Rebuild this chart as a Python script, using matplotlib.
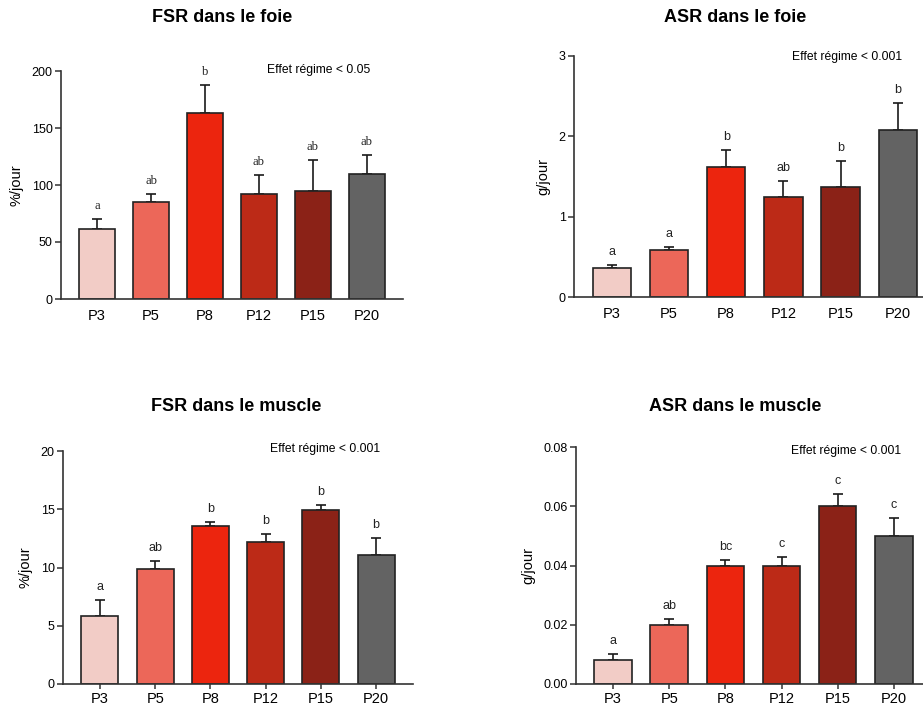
import matplotlib
matplotlib.use("Agg")
import matplotlib.pyplot as plt

plt.rcParams['font.family'] = ['Liberation Sans', 'DejaVu Sans']

# groups and bar colours
groups = ["P3", "P5", "P8", "P12", "P15", "P20"]
colors = ["#f2ccc6", "#ec6759", "#ec250e", "#bc2a17", "#8b2217", "#636363"]

# FSR foie
fsr_foie = [61, 85, 163, 92, 95, 110]
fsr_foie_err = [9, 7, 25, 17, 27, 16]
fsr_foie_letters = ["a", "ab", "b", "ab", "ab", "ab"]

# ASR foie
asr_foie = [0.36, 0.58, 1.62, 1.24, 1.37, 2.08]
asr_foie_err = [0.04, 0.04, 0.21, 0.20, 0.32, 0.34]
asr_foie_letters = ["a", "a", "b", "ab", "b", "b"]

# FSR muscle
fsr_muscle = [5.8, 9.9, 13.6, 12.2, 14.9, 11.1]
fsr_muscle_err = [1.45, 0.7, 0.3, 0.7, 0.45, 1.4]
fsr_muscle_letters = ["a", "ab", "b", "b", "b", "b"]

# ASR muscle
asr_muscle = [0.008, 0.020, 0.040, 0.040, 0.060, 0.050]
asr_muscle_err = [0.002, 0.002, 0.002, 0.003, 0.004, 0.006]
asr_muscle_letters = ["a", "ab", "bc", "c", "c", "c"]

W, H = 923, 708
fig = plt.figure(figsize=(W / 100, H / 100), dpi=100)


def panel(px, vals, errs, letters, ylim, yticks, yfmt, ylabel, pval, ppos,
          xlim, letter_font, xticks_on):
    left, right, top, bottom = px
    ax = fig.add_axes([left / W, (H - bottom) / H, (right - left) / W, (bottom - top) / H])
    x = range(len(groups))
    ax.bar(x, vals, width=0.67, color=colors, edgecolor="#222222", linewidth=1.2, zorder=2)
    ax.errorbar(x, vals, yerr=[[0] * len(vals), errs], fmt="none", ecolor="#1a1a1a",
                elinewidth=1.2, capsize=3.5, capthick=1.2, zorder=1)
    for xi, v, e, lab in zip(x, vals, errs, letters):
        ax.annotate(lab, (xi, v + e), xytext=(0, 5), textcoords="offset points",
                    ha="center", va="bottom", fontsize=9, family=letter_font, color="#222222")
    ax.set_xlim(*xlim)
    ax.set_ylim(*ylim)
    ax.set_yticks(yticks)
    ax.set_yticklabels([yfmt.format(t) for t in yticks], fontsize=9)
    ax.set_xticks(list(x))
    ax.set_xticklabels(groups, fontsize=10.5)
    ax.tick_params(axis="y", length=4, width=1.1, color="#333333", pad=2)
    if xticks_on:
        ax.tick_params(axis="x", length=3.5, width=1.1, color="#333333", pad=2.5)
    else:
        ax.tick_params(axis="x", length=0, pad=7)
    for s in ["top", "right"]:
        ax.spines[s].set_visible(False)
    for s in ["left", "bottom"]:
        ax.spines[s].set_linewidth(1.2)
        ax.spines[s].set_color("#333333")
    ax.set_ylabel(ylabel, fontsize=10.5, labelpad=6)
    fig.text(ppos[0] / W, 1 - ppos[1] / H, pval, ha="center", va="center", fontsize=8.7)
    return ax


panel((61, 403, 71, 299), fsr_foie, fsr_foie_err, fsr_foie_letters,
      (0, 200), [0, 50, 100, 150, 200], "{:.0f}", "%/jour", "Effet régime < 0.05", (319, 70),
      (-0.67, 5.67), ["Liberation Serif"], False)
panel((574, 923, 56, 297), asr_foie, asr_foie_err, asr_foie_letters,
      (0, 3), [0, 1, 2, 3], "{:.0f}", "g/jour", "Effet régime < 0.001", (847, 57),
      (-0.66, 5.44), ["Liberation Sans"], False)
panel((63, 413, 451, 684), fsr_muscle, fsr_muscle_err, fsr_muscle_letters,
      (0, 20), [0, 5, 10, 15, 20], "{:.0f}", "%/jour", "Effet régime < 0.001", (325, 449),
      (-0.67, 5.67), ["Liberation Sans"], True)
panel((576, 923, 447, 684), asr_muscle, asr_muscle_err, asr_muscle_letters,
      (0, 0.08), [0, 0.02, 0.04, 0.06, 0.08], "{:.2f}", "g/jour", "Effet régime < 0.001", (846, 451),
      (-0.66, 5.52), ["Liberation Sans"], True)

# titles placed in figure pixels
titles = [("FSR dans le foie", 222, 17), ("ASR dans le foie", 735, 17),
          ("FSR dans le muscle", 236, 407), ("ASR dans le muscle", 735, 407)]
for t, tx, ty in titles:
    fig.text(tx / W, 1 - ty / H, t, ha="center", va="center", fontsize=13, fontweight="bold")

fig.savefig("out.png", dpi=100)
